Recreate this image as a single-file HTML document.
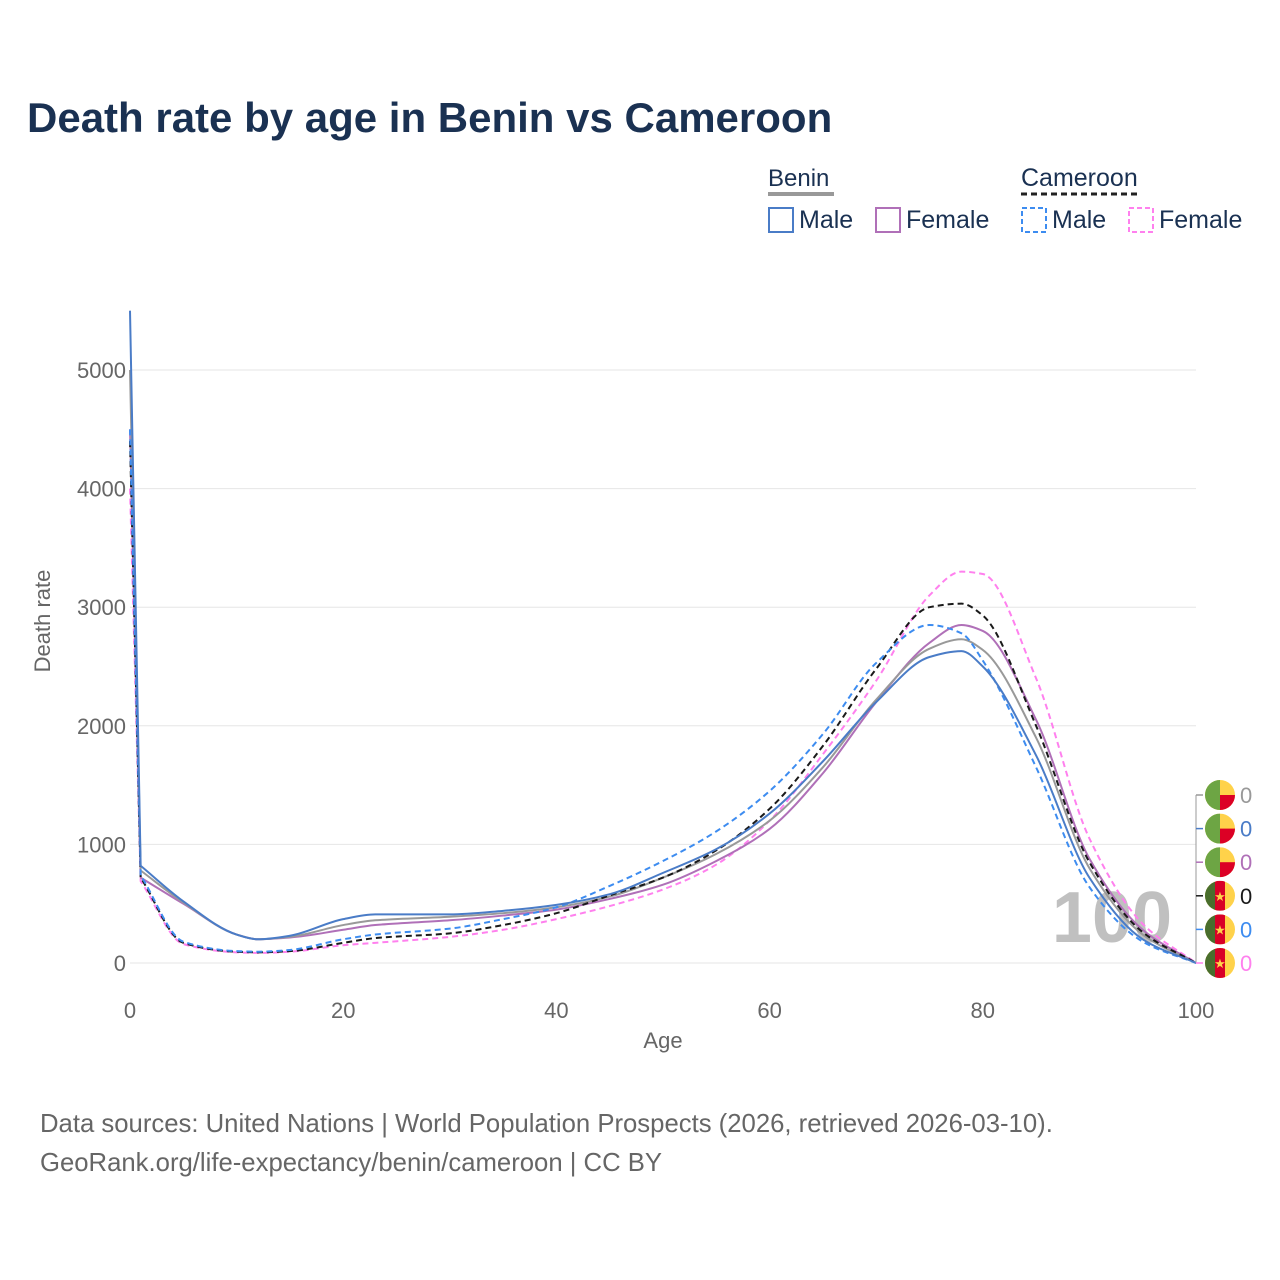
<!DOCTYPE html>
<html><head><meta charset="utf-8"><style>
body{margin:0;background:#fff;font-family:"Liberation Sans",sans-serif}
svg{display:block}
</style></head><body>
<svg id="chart" width="1280" height="1280" viewBox="0 0 1280 1280">
<defs><clipPath id="fc"><circle cx="0" cy="0" r="15"/></clipPath></defs>
<text x="27" y="132" font-size="42" font-weight="bold" fill="#1a3152">Death rate by age in Benin vs Cameroon</text>
<g font-size="24" fill="#1a3152">
<text x="768" y="186">Benin</text>
<line x1="768" y1="194" x2="834" y2="194" stroke="#999" stroke-width="4"/>
<text x="1021" y="186" font-size="25">Cameroon</text>
<line x1="1021" y1="194" x2="1141" y2="194" stroke="#222" stroke-width="3" stroke-dasharray="6,4"/>
<g><rect x="769" y="208" width="24" height="24" fill="none" stroke="#4a7cc7" stroke-width="2"/><text x="799" y="228" font-size="25">Male</text></g>
<g><rect x="876" y="208" width="24" height="24" fill="none" stroke="#b070b8" stroke-width="2"/><text x="906" y="228" font-size="25">Female</text></g>
<g><rect x="1022" y="208" width="24" height="24" fill="none" stroke="#3d8cf0" stroke-width="2" stroke-dasharray="5,3"/><text x="1052" y="228" font-size="25">Male</text></g>
<g><rect x="1129" y="208" width="24" height="24" fill="none" stroke="#ff80ee" stroke-width="2" stroke-dasharray="5,3"/><text x="1159" y="228" font-size="25">Female</text></g>
</g>
<g id="grid"></g>
<text x="1112" y="942" font-size="72" font-weight="bold" fill="#c0c0c0" text-anchor="middle">100</text>
<g id="series"></g>
<g id="axes" font-size="22" fill="#666"></g>
<text x="50" y="621" font-size="22" fill="#666" text-anchor="middle" transform="rotate(-90 50 621)">Death rate</text>
<text x="663" y="1048" font-size="22" fill="#666" text-anchor="middle">Age</text>
<g id="endlabels"></g>
<text x="40" y="1132" font-size="25.7" fill="#666">Data sources: United Nations | World Population Prospects (2026, retrieved 2026-03-10).</text>
<text x="40" y="1171" font-size="25.7" fill="#666">GeoRank.org/life-expectancy/benin/cameroon | CC BY</text>
</svg>
<script>
const ages=[0,1,5,10,12,15,20,23,30,35,40,45,50,55,60,65,70,75,78,80,85,90,95,100];
const beninMale=[5500,820,520,240,200,230,370,410,410,440,490,580,760,960,1260,1700,2200,2580,2630,2500,1750,720,200,0];
const beninTotal=[5000,780,510,240,200,220,320,360,390,420,470,560,720,920,1200,1650,2220,2650,2730,2640,1900,800,240,0];
const beninFemale=[4500,720,500,240,200,215,280,320,360,400,450,540,660,860,1130,1600,2200,2700,2850,2800,2050,880,280,0];
const camMale=[4500,740,180,100,95,110,200,240,290,370,470,650,860,1110,1450,1930,2530,2850,2780,2550,1650,640,180,0];
const camTotal=[4400,720,170,95,90,100,170,210,250,320,420,570,720,950,1300,1830,2480,3000,3030,2930,2000,850,260,0];
const camFemale=[4000,690,160,90,85,95,150,170,220,280,370,480,620,830,1200,1760,2380,3100,3300,3280,2400,1050,330,0];
const yTicks=[0,1000,2000,3000,4000,5000];
const xTicks=[0,20,40,60,80,100];
const X=a=>130+a*10.66, Y=v=>963-v*0.1186;
const ns="http://www.w3.org/2000/svg";
function mk(t,attrs,parent){const e=document.createElementNS(ns,t);for(const k in attrs)e.setAttribute(k,attrs[k]);parent.appendChild(e);return e;}
const grid=document.getElementById('grid'),axes=document.getElementById('axes');
yTicks.forEach(v=>{const l=mk('line',{x1:130,x2:1196,y1:Y(v),y2:Y(v),stroke:'#e6e6e6','stroke-width':1},grid);


const t=mk('text',{x:126,y:Y(v)+8,'text-anchor':'end'},axes);t.textContent=v;

});
xTicks.forEach(a=>{const t=mk('text',{x:X(a),y:1018,'text-anchor':'middle'},axes);t.textContent=a;

});
function path(vals){
 const xs=ages.slice(1).map(X), ys=vals.slice(1).map(Y), n=xs.length;
 const dx=[],m=[],t=[];
 for(let i=0;i<n-1;i++){dx[i]=xs[i+1]-xs[i];m[i]=(ys[i+1]-ys[i])/dx[i];}
 t[0]=m[0];t[n-1]=m[n-2];
 for(let i=1;i<n-1;i++){ if(m[i-1]*m[i]<=0)t[i]=0; else {const w1=2*dx[i]+dx[i-1],w2=dx[i]+2*dx[i-1];t[i]=(w1+w2)/(w1/m[i-1]+w2/m[i]);}}
 let d='M'+X(ages[0])+','+Y(vals[0])+' L'+xs[0]+','+ys[0];
 for(let i=0;i<n-1;i++){const h=dx[i]/3;d+=' C'+(xs[i]+h)+','+(ys[i]+t[i]*h)+' '+(xs[i+1]-h)+','+(ys[i+1]-t[i+1]*h)+' '+xs[i+1]+','+ys[i+1];}
 return d;}
const S=document.getElementById('series');
const defs=[[camFemale,'#ff80ee','6,4','cameroon-female-line'],[beninFemale,'#b070b8','','benin-female-line'],[beninTotal,'#999','','benin-total-line'],[camTotal,'#1a1a1a','6,4','cameroon-total-line'],[camMale,'#3d8cf0','6,4','cameroon-male-line'],[beninMale,'#4a7cc7','','benin-male-line']];
defs.forEach(([v,c,da,n])=>{const e=mk('path',{d:path(v),fill:'none',stroke:c,'stroke-width':2,'stroke-dasharray':da},S);

});
const E=document.getElementById('endlabels');
const lab=[['#999','benin'],['#4a7cc7','benin'],['#b070b8','benin'],['#1a1a1a','cameroon'],['#3d8cf0','cameroon'],['#ff80ee','cameroon']];
mk('line',{x1:1196,x2:1196,y1:795,y2:963,stroke:'#999','stroke-width':1},E);
lab.forEach(([c,f],i)=>{const y=795+i*33.6;
mk('line',{x1:1196,x2:1203,y1:y,y2:y,stroke:c,'stroke-width':1.5},E);
const g=mk('g',{},E);


const cx=1220;
const fg=mk('g',{transform:`translate(${cx},${y})`,'clip-path':'url(#fc)'},g);
if(f==='benin'){mk('rect',{x:-15,y:-15,width:30,height:30,fill:'#ffd24a'},fg);
mk('rect',{x:0,y:0,width:15,height:15,fill:'#dc0025'},fg);
mk('rect',{x:-15,y:-15,width:15,height:30,fill:'#6da544'},fg);}
else{mk('rect',{x:-15,y:-15,width:30,height:30,fill:'#ffd24a'},fg);
mk('rect',{x:-15,y:-15,width:10,height:30,fill:'#496e2d'},fg);
mk('rect',{x:-5,y:-15,width:10,height:30,fill:'#d80027'},fg);
const st=mk('text',{x:0,y:5,'font-size':13,fill:'#ffd24a','text-anchor':'middle'},fg);st.textContent='★';}
const t=mk('text',{x:1240,y:y+8,'font-size':22,fill:c},g);t.textContent='0';});
</script>
</body></html>
